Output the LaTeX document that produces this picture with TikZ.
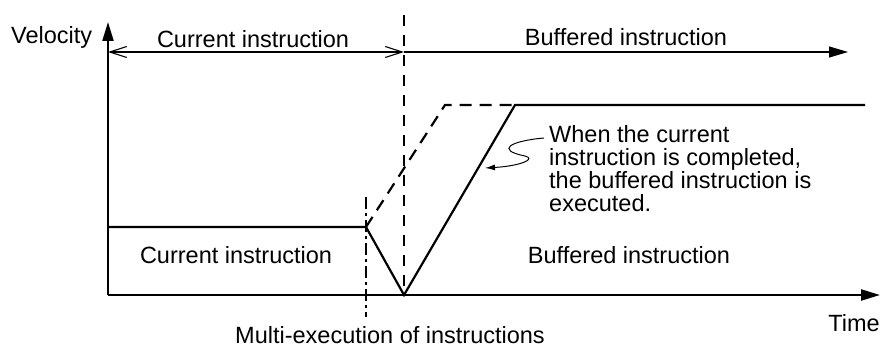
\documentclass[tikz,border=0pt]{standalone}
\usepackage{fontspec}
\setmainfont{Liberation Sans}
\usetikzlibrary{arrows.meta}
\begin{document}
\begin{tikzpicture}[x=1pt,y=-1pt,
  lbl/.style={font=\fontsize{23.5}{23}\selectfont,inner sep=0pt},
  axis/.style={line width=2.2pt,-{Triangle[length=19pt,width=11pt]}},
  vel/.style={line width=2.2pt,line join=miter},
  thin/.style={line width=1.1pt},
  vdash/.style={line width=1.1pt,dash pattern=on 11pt off 9pt},
  veldash/.style={line width=2.2pt,dash pattern=on 12pt off 8pt},
  dashdot/.style={line width=1.1pt,dash pattern=on 12pt off 4pt on 3pt off 4pt}]
\useasboundingbox (0,0) rectangle (882,347);
% key points
\coordinate (O) at (108,295);
\coordinate (Ytop) at (108,22);
\coordinate (Tend) at (880,295);
\coordinate (V1) at (108,227);
\coordinate (K) at (366,227);
\coordinate (B) at (404,295);
\coordinate (P) at (515,105);
\coordinate (Pend) at (865,105);
\coordinate (D1) at (445,105);
\coordinate (Ltop) at (404,15);
\coordinate (Lbot) at (404,293);
\coordinate (Mtop) at (366,197);
\coordinate (Mbot) at (366,317);
\coordinate (A1) at (108,52);
\coordinate (A2) at (404,52);
\coordinate (A3) at (848,52);
\coordinate (Sq) at (544,138);
\coordinate (St) at (485,168);
% axes
\draw[axis] (O) -- (Ytop);
\draw[axis] (O) -- (Tend);
% marker lines
\draw[vdash] (Ltop) -- (Lbot);
\draw[dashdot] (Mtop) -- (Mbot);
% spans
\draw[thin,{Straight Barb[length=17pt,width=11pt]}-{Straight Barb[length=17pt,width=11pt]}] (A1) -- (A2);
\draw[thin,-{Triangle[length=19pt,width=11pt]}] (A2) -- (A3);
% velocity profile
\draw[vel] (V1) -- (K) -- (B) -- (P) -- (Pend);
\draw[veldash] (K) -- (D1) -- (P);
% annotation leader
\draw[line width=1pt,-{Latex[length=10pt,width=6pt]}] (Sq) .. controls (510,141) and (495,150) .. (525,156) .. controls (537,159) and (520,166) .. (St);
% labels
\node[lbl,anchor=base west] (vel) at (11,44) {Velocity};
\node[lbl,anchor=base] (ci1) at (253,48) {Current instruction};
\node[lbl,anchor=base] (bi1) at (626,46) {Buffered instruction};
\node[lbl,anchor=base] (ci2) at (236,263) {Current instruction};
\node[lbl,anchor=base] (bi2) at (629,263) {Buffered instruction};
\node[lbl,anchor=base east] (time) at (880,331) {Time};
\node[lbl,anchor=base] (multi) at (390,343) {Multi-execution of instructions};
\node[lbl,anchor=north west,align=left] (note) at (549,125) {When the current\\instruction is completed,\\the buffered instruction is\\executed.};
\end{tikzpicture}
\end{document}
